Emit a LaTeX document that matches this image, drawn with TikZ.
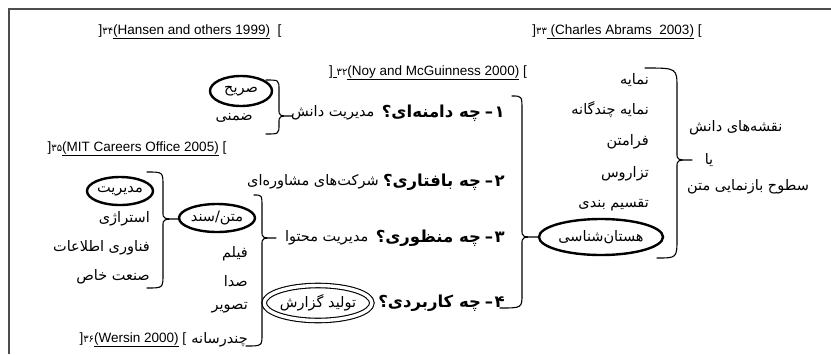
\documentclass[tikz,border=0pt]{standalone}
\usepackage{fontspec}
\setmainfont{Liberation Sans}
\newfontfamily\farsi[Script=Arabic]{DejaVu Sans}
\TeXXeTstate=1
\usetikzlibrary{shapes.geometric,calc}

% curly brace: top end, tip, bottom end, spine point, curl radius
\newcommand\bracelink[5]{%
  \draw[brace] let \p1=(#1), \p2=(#2), \p3=(#3), \p4=(#4) in
    (\p1) .. controls (\x4,\y1) .. (\x4,\y1-#5pt)
    -- (\x4,\y2+7pt) .. controls (\x4,\y2) .. (\p2)
    .. controls (\x4,\y2) .. (\x4,\y2-7pt)
    -- (\x4,\y3+#5pt) .. controls (\x4,\y3) .. (\p3);}
\newcommand\fanum[1]{{\farsi\fontsize{10}{11}\selectfont #1}}
% numbered question: digit on the right, dash to its left
\newcommand\qnum[1]{#1\kern1.5pt–\kern0pt\hspace{4pt}}

\begin{document}
\begin{tikzpicture}[x=1pt,y=-1pt,
  fa/.style={font=\farsi\fontsize{14.5}{16}\selectfont, inner sep=0pt},
  ques/.style={font=\farsi\bfseries\fontsize{16.5}{18}\selectfont, inner sep=0pt},
  cite/.style={font=\fontsize{13.5}{15}\selectfont, inner sep=0pt},
  oval/.style={line width=2.4pt},
  brace/.style={line width=1.1pt, line cap=round, line join=round},
  frameline/.style={line width=2pt, black!70}]
\useasboundingbox (0,0) rectangle (831,354);

% frame
\coordinate (fl) at (9,354);
\coordinate (ftl) at (9,9);
\coordinate (ftr) at (831,9);
\draw[frameline] (fl) -- (ftl) -- (ftr);

% references
\node[cite] (c34) at (190,32) {]\fanum{۳۴}\underline{(Hansen and others 1999)}\ \ [};
\node[cite] (c33) at (617,32) {]\fanum{۳۳}\underline{\ (Charles Abrams\ \ 2003)}\ [};
\node[cite] (c32) at (428,73) {]\underline{\ }\fanum{۳۲}\underline{(Noy and McGuinness 2000)}\ [};
\node[cite] (c35) at (137,149) {]\fanum{۳۵}\underline{(MIT Careers Office 2005)}\ [};

% questions
\node[ques, anchor=east] (q1) at (505,113) {\beginR\qnum{۱}چه دامنه‌ای؟\endR};
\node[ques, anchor=east] (q2) at (505,182) {\beginR\qnum{۲}چه بافتاری؟\endR};
\node[ques, anchor=east] (q3) at (505,238) {\beginR\qnum{۳}چه منظوری؟\endR};
\node[ques, anchor=east] (q4) at (505,303) {\beginR\qnum{۴}چه کاربردی؟\endR};
\node[fa, anchor=east] (a1) at ([xshift=-7pt]q1.west) {\beginR مدیریت دانش\endR};
\node[fa, anchor=east] (a2) at ([xshift=-4pt]q2.west) {\beginR شرکت‌های مشاوره‌ای\endR};
\node[fa, anchor=east] (a3) at ([xshift=-7pt]q3.west) {\beginR مدیریت محتوا\endR};
\node[fa, draw, ellipse, double, double distance=3.4pt, line width=1.1pt,
      minimum width=88pt, minimum height=35pt, inner sep=0pt] (a4) at (318,303) {\beginR تولید گزارش\endR};

% knowledge management
\node[fa] (k1) at (241,91) {\beginR صریح\endR};
\draw[oval] (k1.center) ellipse [x radius=31, y radius=15];
\node[fa, anchor=east] (k2) at (253,118) {\beginR ضمنی\endR};

% text / document group
\node[fa] (t0) at (217,218) {\beginR متن/سند\endR};
\draw[oval] (t0.center) ellipse [x radius=38, y radius=14];
\node[fa, anchor=east] (t1) at (248,254) {\beginR فیلم\endR};
\node[fa, anchor=east] (t2) at (248,281) {\beginR صدا\endR};
\node[fa, anchor=east] (t3) at (248,308) {\beginR تصویر\endR};
\node[fa, anchor=east] (t4) at (248,340) {\beginR چندرسانه\endR};
\node[cite, anchor=east] (c36) at ([xshift=-5pt]t4.west) {]\fanum{۳۶}\underline{(Wersin 2000)}\ [};

% management group
\node[fa] (m0) at (120,191) {\beginR مدیریت\endR};
\draw[oval] (m0.center) ellipse [x radius=33, y radius=14];
\node[fa, anchor=east] (m1) at (150,219) {\beginR استراژی\endR};
\node[fa, anchor=east] (m2) at (150,248) {\beginR فناوری اطلاعات\endR};
\node[fa, anchor=east] (m3) at (150,277) {\beginR صنعت خاص\endR};

% representation levels
\node[fa, anchor=east] (r1) at (649,80) {\beginR نمایه\endR};
\node[fa, anchor=east] (r2) at (649,110) {\beginR نمایه چندگانه\endR};
\node[fa, anchor=east] (r3) at (649,142) {\beginR فرامتن\endR};
\node[fa, anchor=east] (r4) at (649,174) {\beginR تزاروس\endR};
\node[fa, anchor=east] (r5) at (649,205) {\beginR تقسیم بندی\endR};
\node[fa] (r6) at (601,237) {\beginR هستان‌شناسی\endR};
\draw[oval] (r6.center) ellipse [x radius=62, y radius=18];

% knowledge maps
\node[fa, anchor=west] (s1) at (689,128) {\beginR نقشه‌های دانش\endR};
\node[fa] (s2) at (709,160) {\beginR یا\endR};
\node[fa, anchor=west] (s3) at (687,187) {\beginR سطوح بازنمایی متن\endR};

% braces
\coordinate (b1t) at (266,80);  \coordinate (b1m) at (292,116);
\coordinate (b1b) at (266,134); \coordinate (b1s) at (279,100);
\bracelink{b1t}{b1m}{b1b}{b1s}{10}

\coordinate (bLt) at (147,172); \coordinate (bLm) at (180,219);
\coordinate (bLb) at (147,288); \coordinate (bLs) at (163,200);
\bracelink{bLt}{bLm}{bLb}{bLs}{14}

\coordinate (bMt) at (254,195); \coordinate (bMm) at (276,238);
\coordinate (bMb) at (246,346); \coordinate (bMs) at (262,250);
\bracelink{bMt}{bMm}{bMb}{bMs}{12}

\coordinate (bQt) at (512,96);  \coordinate (bQm) at (538,237);
\coordinate (bQb) at (500,308); \coordinate (bQs) at (522,200);
\bracelink{bQt}{bQm}{bQb}{bQs}{14}

\coordinate (bRt) at (645,68);  \coordinate (bRm) at (692,160);
\coordinate (bRb) at (657,258); \coordinate (bRs) at (677,150);
\bracelink{bRt}{bRm}{bRb}{bRs}{20}
\end{tikzpicture}
\end{document}
